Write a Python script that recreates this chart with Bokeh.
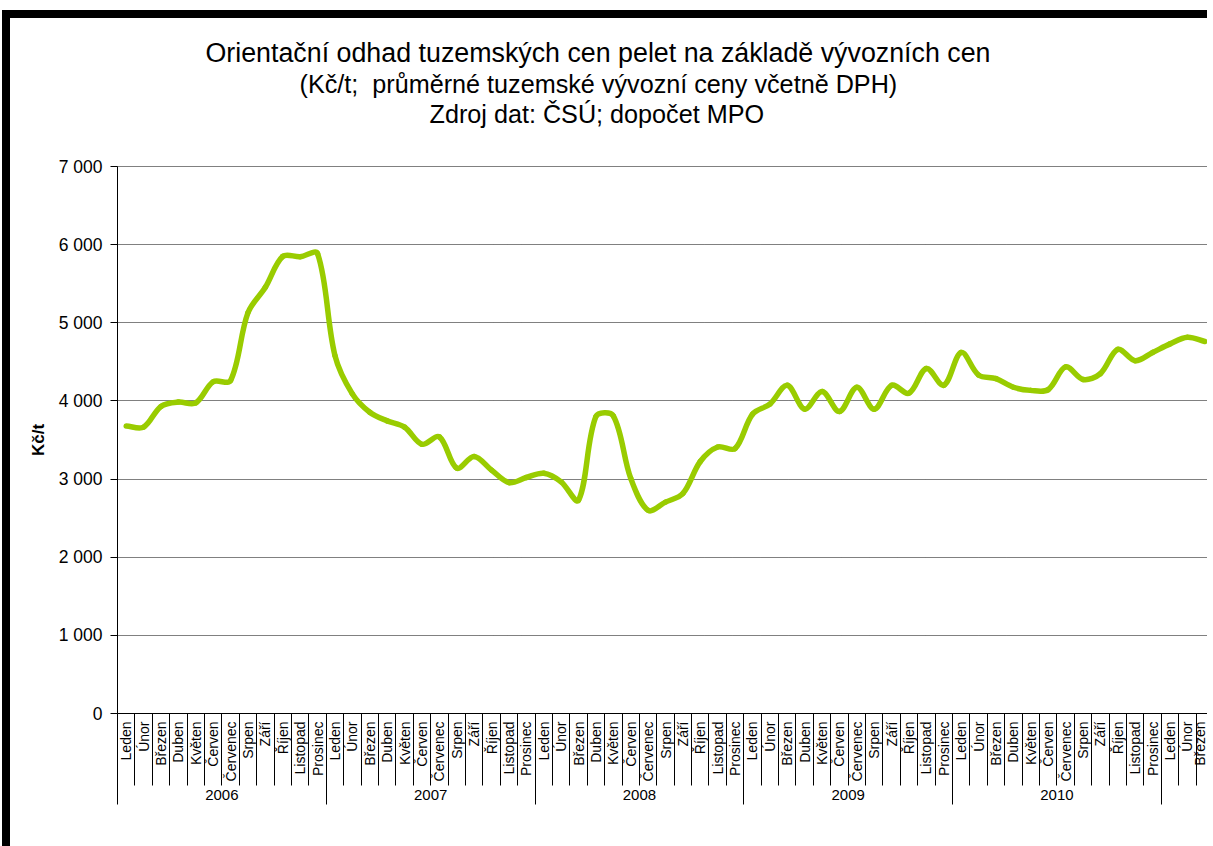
import math
from bokeh.plotting import figure
from bokeh.models import Range1d, LinearAxis, FixedTicker, Title
from bokeh.embed import file_html
from bokeh.resources import INLINE

# ---------------- data ----------------
years = ["2006", "2007", "2008", "2009", "2010", "2011"]
months_per_year = [12, 12, 12, 12, 12, 3]
month_names = ["Leden", "Únor", "Březen", "Duben", "Květen", "Červen",
               "Červenec", "Srpen", "Září", "Říjen", "Listopad", "Prosinec"]

price_2006 = [3680, 3665, 3930, 3985, 3975, 4245, 4260, 5130, 5455, 5850, 5845, 5885]
price_2007 = [4580, 4090, 3855, 3745, 3665, 3445, 3540, 3140, 3290, 3115, 2955, 3020]
price_2008 = [3075, 2965, 2730, 3800, 3810, 3010, 2600, 2705, 2815, 3225, 3410, 3390]
price_2009 = [3830, 3960, 4200, 3895, 4120, 3865, 4175, 3895, 4200, 4100, 4415, 4200]
price_2010 = [4620, 4330, 4285, 4175, 4135, 4145, 4435, 4275, 4350, 4660, 4515, 4620]
price_2011 = [4730, 4815, 4760]

y_ticks = [0, 1000, 2000, 3000, 4000, 5000, 6000, 7000]
y_tick_labels = ["0", "1 000", "2 000", "3 000", "4 000", "5 000", "6 000", "7 000"]

title_lines = [
    "Orientační odhad tuzemských cen pelet na základě vývozních cen",
    "(Kč/t;\u00a0 průměrné tuzemské vývozní ceny včetně DPH)",
    "Zdroj dat: ČSÚ; dopočet MPO",
]
y_axis_title = "Kč/t"

# ---------------- derived ----------------
prices = price_2006 + price_2007 + price_2008 + price_2009 + price_2010 + price_2011
n = len(prices)
month_labels = [month_names[i % 12] for i in range(n)]
xs = [i + 0.5 for i in range(n)]

year_bounds = [0]
for c in months_per_year:
    year_bounds.append(year_bounds[-1] + c)
year_centers = [year_bounds[k] + months_per_year[k] / 2 for k in range(len(years)) if months_per_year[k] == 12]
year_label_text = [years[k] for k in range(len(years)) if months_per_year[k] == 12]

FONT = "Liberation Sans"
GREEN = "#99CC00"

FRAME_W, FRAME_H = 1088, 539   # frame size in px (used for smoothing in screen space)

p = figure(width=1205, height=836,
           x_range=Range1d(0, n), y_range=Range1d(0, 7000),
           output_backend="svg", toolbar_location=None,
           x_axis_location=None,
           min_border_left=107, min_border_right=2,
           min_border_top=148, min_border_bottom=141)
p.styles = {"margin-top": "10px", "margin-left": "2px",
            "border-top": "8px solid black", "border-left": "8px solid black"}
p.title.visible = False
p.background_fill_color = "white"
p.border_fill_color = "white"
p.outline_line_color = "#808080"
p.outline_line_width = 1

# y axis
ya = p.yaxis[0]
ya.ticker = FixedTicker(ticks=y_ticks, minor_ticks=[])
ya.major_label_overrides = {t: s for t, s in zip(y_ticks, y_tick_labels)}
ya.major_label_text_font = FONT
ya.major_label_text_font_size = "17.5px"
ya.major_label_text_color = "black"
ya.major_tick_out = 7
ya.major_tick_in = 0
ya.major_tick_line_color = "black"
ya.minor_tick_line_color = None
ya.axis_line_color = "black"
ya.major_label_standoff = 8
ya.axis_label = y_axis_title
ya.axis_label_text_font = FONT
ya.axis_label_text_font_style = "bold"
ya.axis_label_text_font_size = "17px"
ya.axis_label_text_color = "black"
ya.axis_label_standoff = 8

for g in p.ygrid:
    g.ticker = FixedTicker(ticks=y_ticks[1:-1])
    g.grid_line_color = "#000000"
    g.grid_line_dash = "1 1"
    g.grid_line_width = 1
for g in p.xgrid:
    g.visible = False

# month axis: labels at month centres, separators = minor ticks drawn outward (negative tick_in)
ax_m = LinearAxis(
    ticker=FixedTicker(ticks=xs, minor_ticks=list(range(n + 1))),
    major_label_overrides={x: m for x, m in zip(xs, month_labels)},
    major_label_orientation=math.pi / 2,
    major_label_standoff=8,
    major_tick_in=0, major_tick_out=0,
    minor_tick_in=-72, minor_tick_out=0,
    minor_tick_line_color="black",
    axis_line_color="black",
    major_label_text_font=FONT,
    major_label_text_font_size="14px",
    major_label_text_color="black",
)
p.add_layout(ax_m, "below")

# year axis
ax_y = LinearAxis(
    ticker=FixedTicker(ticks=year_centers, minor_ticks=year_bounds[:-1]),
    major_label_overrides={c: s for c, s in zip(year_centers, year_label_text)},
    major_label_standoff=-15,
    major_tick_in=0, major_tick_out=0,
    minor_tick_in=12, minor_tick_out=20,
    minor_tick_line_color="black",
    axis_line_color=None,
    major_label_text_font=FONT,
    major_label_text_font_size="15px",
    major_label_text_color="black",
)
p.add_layout(ax_y, "below")

# smoothed line: Bezier segments through the data points (Excel-like, length weighted)
sx_scale = FRAME_W / n
sy_scale = FRAME_H / 7000.0

def pt(k):
    k = max(0, min(n - 1, k))
    return xs[k], prices[k]

def dist(a, b):
    return math.hypot((a[0] - b[0]) * sx_scale, (a[1] - b[1]) * sy_scale)

bx0, by0, bx1, by1, bcx0, bcy0, bcx1, bcy1 = ([] for _ in range(8))
for i in range(n - 1):
    A, B, C, D = pt(i - 1), pt(i), pt(i + 1), pt(i + 2)
    d_ab, d_bc, d_cd = dist(A, B), dist(B, C), dist(C, D)
    f1 = d_bc / (d_ab + d_bc) / 3 if (d_ab + d_bc) > 0 else 0
    f2 = d_bc / (d_bc + d_cd) / 3 if (d_bc + d_cd) > 0 else 0
    bx0.append(B[0]); by0.append(B[1]); bx1.append(C[0]); by1.append(C[1])
    bcx0.append(B[0] + (C[0] - A[0]) * f1); bcy0.append(B[1] + (C[1] - A[1]) * f1)
    bcx1.append(C[0] - (D[0] - B[0]) * f2); bcy1.append(C[1] - (D[1] - B[1]) * f2)

p.bezier(x0=bx0, y0=by0, x1=bx1, y1=by1, cx0=bcx0, cy0=bcy0, cx1=bcx1, cy1=bcy1,
         line_color=GREEN, line_width=5.5, line_cap="round", line_join="round")

# titles: stacked above the frame (first added = nearest the frame), left-aligned offsets
p.add_layout(Title(text=" ", text_font_size="10px", standoff=26), "above")
title_sizes = ["26.8px", "25.2px", "25.2px"]
title_offsets = [88, 182, 312]
for txt, fs, off in reversed(list(zip(title_lines, title_sizes, title_offsets))):
    p.add_layout(Title(text=txt, align="left", offset=off, standoff=0,
                       text_font=FONT, text_font_size=fs, text_font_style="normal",
                       text_color="black"), "above")

open("out.html", "w").write(file_html(p, INLINE))
